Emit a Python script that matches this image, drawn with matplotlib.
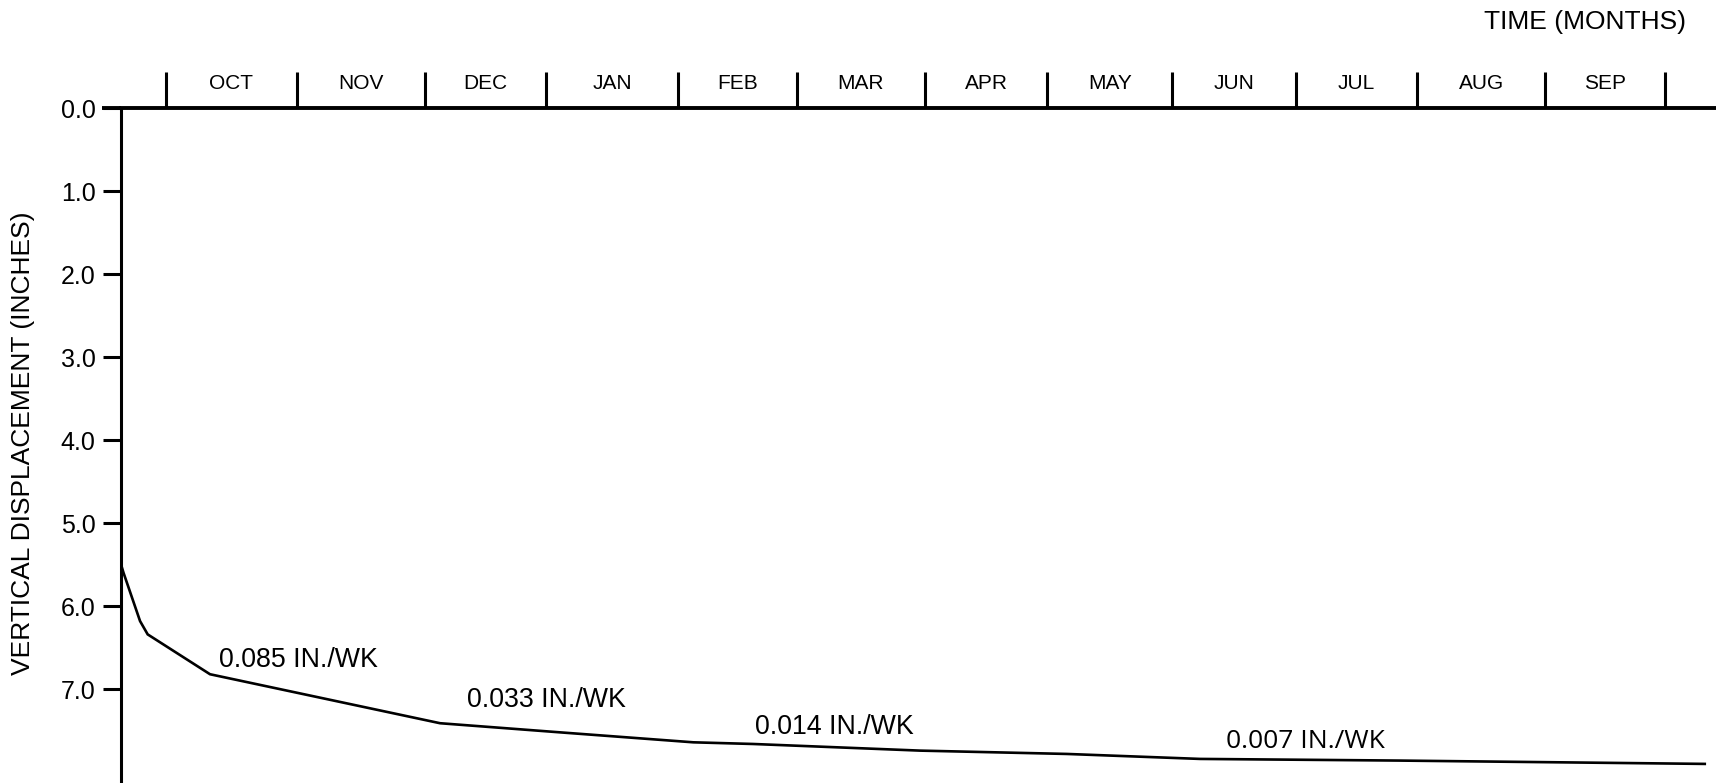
import matplotlib
matplotlib.use("Agg")
import matplotlib.pyplot as plt

plt.rcParams['font.family'] = ['Liberation Sans', 'DejaVu Sans']

# Month boundaries (in months from start of OCT)
months = ["OCT", "NOV", "DEC", "JAN", "FEB", "MAR", "APR", "MAY", "JUN", "JUL", "AUG", "SEP"]
month_edges = [0.0, 1.046, 2.070, 3.042, 4.103, 5.050, 6.075, 7.056, 8.054, 9.046, 10.018, 11.043, 12.0]

# Settlement curve (time in months, displacement in inches)
time_months = [-0.36, -0.34, -0.208, -0.147, 0.352, 2.194, 3.155, 4.222, 4.70, 6.037, 7.211, 8.279, 9.88, 12.32]
displacement = [5.50, 5.60, 6.18, 6.34, 6.82, 7.41, 7.52, 7.64, 7.66, 7.74, 7.78, 7.84, 7.86, 7.90]

# Rate annotations
rate_labels = ["0.085 IN./WK", "0.033 IN./WK", "0.014 IN./WK", "0.007 IN./WK"]
rate_x = [0.424, 2.407, 4.716, 8.487]
rate_y = [6.65, 7.125, 7.454, 7.627]

y_ticks = [0, 1, 2, 3, 4, 5, 6, 7]

W, H = 1716, 783
fig = plt.figure(figsize=(W / 100, H / 100), dpi=100)
left_px, top_px = 120.7, 108.0
ax = fig.add_axes([left_px / W, 0.0, 1 - left_px / W, 1 - top_px / H])

ax.set_xlim(-0.363, 12.41)
ax.set_ylim(8.13, 0.0)

for s in ["right", "bottom"]:
    ax.spines[s].set_visible(False)
ax.spines["left"].set_linewidth(2.2)
ax.spines["top"].set_linewidth(2.8)

ax.set_xticks([])
ax.set_yticks(y_ticks)
ax.set_yticklabels([f"{v:.1f}" for v in y_ticks])
ax.tick_params(axis="y", length=13, width=2.2, pad=5, labelsize=18)

# extend top line to the left like the 0.0 tick
ax.plot([-0.51, -0.363], [0, 0], color="black", lw=2.8, clip_on=False, solid_capstyle="butt")

# month separators and labels above the top line
for e in month_edges:
    ax.plot([e, e], [0, -0.43], color="black", lw=2.2, clip_on=False, solid_capstyle="butt")
for i, m in enumerate(months):
    c = (month_edges[i] + month_edges[i + 1]) / 2
    ax.text(c, -0.29, m, ha="center", va="center", fontsize=15, clip_on=False)

ax.plot(time_months, displacement, color="black", lw=1.9, solid_joinstyle="miter")

for i, (lbl, x, y) in enumerate(zip(rate_labels, rate_x, rate_y)):
    fam = ['Open Sans', 'DejaVu Sans'] if i == 3 else ['Liberation Sans', 'DejaVu Sans']
    ax.text(x, y, lbl, ha="left", va="center", fontsize=19.3 if i < 3 else 19, family=fam)

fig.text(1585 / W, 1 - 22 / H, "TIME (MONTHS)", ha="center", va="center", fontsize=19)
fig.text(23 / W, 1 - 443 / H, "VERTICAL DISPLACEMENT (INCHES)", ha="center", va="center",
         rotation=90, fontsize=19)

fig.savefig("out.png", dpi=100)
